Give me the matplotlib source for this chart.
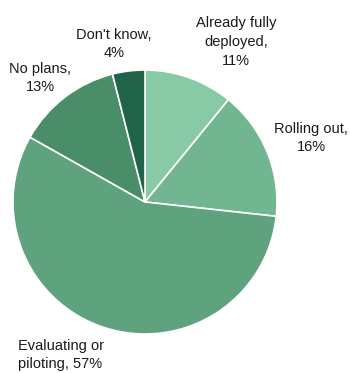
import matplotlib.pyplot as plt

plt.rcParams['font.family'] = ['Liberation Sans', 'DejaVu Sans']

# Данные
labels = ['Already fully\ndeployed,\n11%', 'Rolling out,\n16%', 'Evaluating or\npiloting, 57%',
          'No plans,\n13%', "Don't know,\n4%"]
values = [11, 16, 57, 13, 4]
colors = ['#88c9a6', '#72b591', '#5fa27e', '#4a8d69', '#22644a']

W, H = 350, 373
fig = plt.figure(figsize=(W / 100, H / 100), dpi=100)
ax = fig.add_axes([0, 0, 1, 1])

ax.pie(values, colors=colors, startangle=90, counterclock=False,
       center=(145, H - 202), radius=132,
       wedgeprops=dict(edgecolor='white', linewidth=1.2))

# pie сбрасывает пределы, поэтому задаём их после
ax.set_xlim(0, W)
ax.set_ylim(0, H)
ax.set_aspect('equal')
ax.axis('off')

# Подписи
pos = [(236, 42, 'center'), (311, 138, 'center'), (18, 355, 'left'),
       (40, 78, 'center'), (114, 44, 'center')]
for lab, (x, y, ha) in zip(labels, pos):
    ax.text(x, H - y, lab, ha=ha, va='center', fontsize=10.5,
            color='#1a1a1a', linespacing=1.42)

fig.savefig('out.png', dpi=100)
